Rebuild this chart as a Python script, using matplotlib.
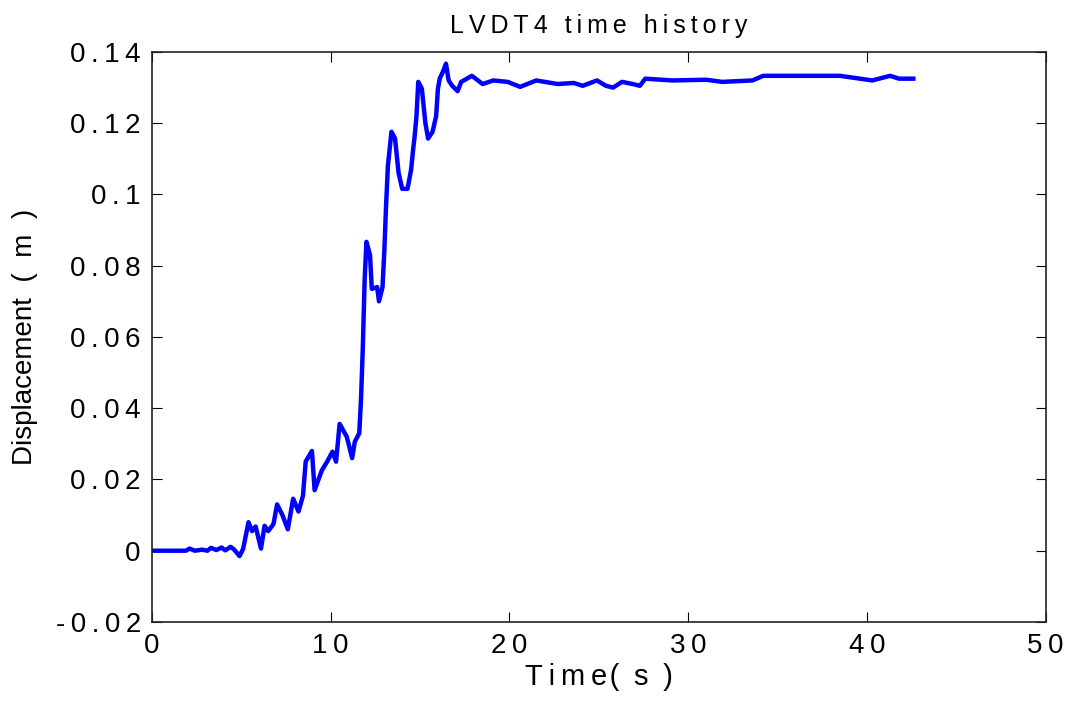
import numpy as np
import matplotlib.pyplot as plt

plt.rcParams['font.family'] = ['Liberation Sans', 'DejaVu Sans']

# values
time = [0.0, 1.9, 2.1, 2.4, 2.8, 3.1, 3.3, 3.6, 3.9, 4.1, 4.4, 4.6, 4.9, 5.1,
        5.4, 5.6, 5.8, 6.1, 6.3, 6.5, 6.8, 7.0, 7.3, 7.6, 7.9, 8.2, 8.45, 8.6,
        8.95, 9.1, 9.5, 9.8, 10.1, 10.3, 10.5, 10.9, 11.2, 11.35, 11.6, 11.7,
        11.8, 11.9, 12.0, 12.2, 12.3, 12.6, 12.7, 12.9, 13.0, 13.1, 13.2, 13.4,
        13.6, 13.8, 14.0, 14.3, 14.5, 14.6, 14.7, 14.8, 14.9, 15.1, 15.3, 15.45,
        15.7, 15.9, 16.0, 16.1, 16.3, 16.45, 16.6, 16.8, 17.1, 17.3, 17.9, 18.5,
        19.1, 19.9, 20.6, 21.5, 22.7, 23.6, 24.1, 24.9, 25.4, 25.8, 26.3, 26.9,
        27.3, 27.6, 29.1, 31.0, 31.9, 33.6, 34.2, 35.7, 37.5, 38.5, 40.3, 41.3,
        41.8, 42.6]
disp = [0.0, 0.0, 0.0006, 0.0, 0.0003, 0.0, 0.0008, 0.0002, 0.0009, 0.0001,
        0.0011, 0.0003, -0.0015, 0.0005, 0.008, 0.0055, 0.0068, 0.0006, 0.007,
        0.0055, 0.0075, 0.013, 0.01, 0.006, 0.0146, 0.011, 0.0155, 0.025,
        0.028, 0.017, 0.0225, 0.025, 0.0278, 0.025, 0.0356, 0.032, 0.026,
        0.0306, 0.033, 0.043, 0.0575, 0.076, 0.0867, 0.083, 0.0735, 0.074,
        0.070, 0.074, 0.084, 0.097, 0.108, 0.1176, 0.1157, 0.106, 0.1016,
        0.1016, 0.107, 0.112, 0.1165, 0.122, 0.1316, 0.1297, 0.120, 0.1157,
        0.1176, 0.122, 0.1297, 0.1325, 0.1347, 0.1367, 0.132, 0.1305, 0.129,
        0.1316, 0.1333, 0.131, 0.132, 0.1316, 0.1302, 0.132, 0.131, 0.1313,
        0.1305, 0.132, 0.1305, 0.130, 0.1316, 0.131, 0.1305, 0.1325, 0.132,
        0.1322, 0.1316, 0.132, 0.1333, 0.1333, 0.1333, 0.1333, 0.132, 0.1333,
        0.1325, 0.1325]

yticks = [-0.02, 0, 0.02, 0.04, 0.06, 0.08, 0.1, 0.12, 0.14]
ytick_labels = ['-0.02', '0', '0.02', '0.04', '0.06', '0.08', '0.1', '0.12', '0.14']
xticks = [0, 10, 20, 30, 40, 50]


def spaced(s, sep='\u2009'):
    # the original export has wide letter spacing
    return sep.join(s)


fig = plt.figure(figsize=(10.68, 7.02), dpi=100)
ax = fig.add_axes([0.1423, 0.114, 0.8367, 0.812])

ax.plot(time, disp, color='#0000ff', lw=3.2)

ax.set_xlim(0, 50)
ax.set_ylim(-0.02, 0.14)
ax.set_xticks(xticks)
ax.set_xticklabels([spaced(str(t)) for t in xticks])
ax.set_yticks(yticks)
ax.set_yticklabels([spaced(t) for t in ytick_labels])
ax.tick_params(direction='in', top=True, right=True, length=7, labelsize=20, pad=8)
for s in ax.spines.values():
    s.set_linewidth(1.2)
    s.set_color('#222222')

ax.set_title(spaced('LVDT4 time history'), fontsize=18, pad=14)
ax.set_xlabel(spaced('Time') + '\u200a(\u2002s\u2002)', fontsize=21, labelpad=3)
ax.set_ylabel('Displacement  (  m  )', fontsize=20, labelpad=13)

fig.savefig('out.png', dpi=100)
